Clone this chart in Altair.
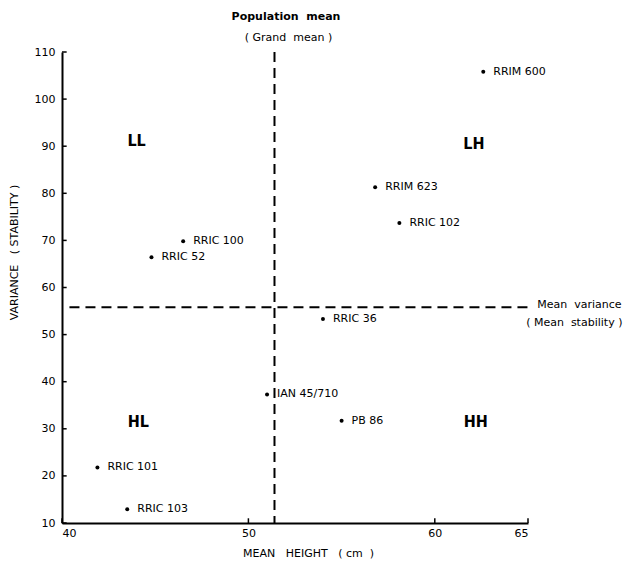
import altair as alt
import pandas as pd

clones = ["RRIM 600", "RRIM 623", "RRIC 102", "RRIC 100", "RRIC 52",
          "RRIC 36", "IAN 45/710", "PB 86", "RRIC 101", "RRIC 103"]
mean_height = [62.6, 56.8, 58.1, 46.5, 44.8, 54.0, 51.0, 55.0, 41.9, 43.5]
variance = [105.8, 81.3, 73.7, 69.8, 66.4, 53.3, 37.3, 31.7, 21.8, 12.9]

grand_mean = 51.4
mean_variance = 55.8

quad_labels = ["LL", "LH", "HL", "HH"]
quad_x = [44.0, 62.1, 44.1, 62.2]
quad_y = [91.0, 90.5, 31.5, 31.5]

x_ticks = [40, 50, 60, 65]
y_ticks = [10, 20, 30, 40, 50, 60, 70, 80, 90, 100, 110]

FONT = "DejaVu Sans"
NB = "\u00a0"

df = pd.DataFrame({"clone": clones, "h": mean_height, "v": variance})
qdf = pd.DataFrame({"lab": quad_labels, "h": quad_x, "v": quad_y})

xs = alt.Scale(domain=[40, 65], nice=False, zero=False)
ys = alt.Scale(domain=[10, 110], nice=False, zero=False)

x_title = f"MEAN{NB*3}HEIGHT{NB*3}({NB}cm{NB*2})"
y_title = f"VARIANCE{NB*3}({NB}STABILITY{NB})"

X = alt.X("h:Q", scale=xs, axis=alt.Axis(
    values=x_ticks, title=x_title, ticks=False,
    labelPadding=4, titleX=246, titleY=30, titleBaseline="middle",
    titleFontWeight="normal", titleFontSize=11))
Y = alt.Y("v:Q", scale=ys, axis=alt.Axis(
    values=y_ticks, title=y_title, ticks=False,
    labelPadding=7, titleX=-48, titleY=200, titleBaseline="middle",
    titleAngle=-90, titleFontWeight="normal", titleFontSize=11))

base = alt.Chart(df)

points = base.mark_circle(size=16, color="black", opacity=1).encode(x=X, y=Y)
labels = base.mark_text(align="left", baseline="middle", dx=10, fontSize=11,
                        font=FONT, color="black").encode(
    x=alt.X("h:Q", scale=xs), y=alt.Y("v:Q", scale=ys), text="clone:N")

vline = alt.Chart(pd.DataFrame({"h": [grand_mean], "v": [110], "v2": [10]})).mark_rule(
    color="black", strokeWidth=2, strokeDash=[10, 6]).encode(
    x=alt.X("h:Q", scale=xs), y=alt.Y("v:Q", scale=ys), y2="v2:Q")

hline = alt.Chart(pd.DataFrame({"h": [40.4], "h2": [65.0], "v": [mean_variance]})).mark_rule(
    color="black", strokeWidth=2, strokeDash=[10, 6]).encode(
    x=alt.X("h:Q", scale=xs), x2="h2:Q", y=alt.Y("v:Q", scale=ys))

quads = alt.Chart(qdf).mark_text(fontSize=16, fontWeight="bold", font="DejaVu Sans Condensed, DejaVu Sans",
                                 color="black").encode(
    x=alt.X("h:Q", scale=xs), y=alt.Y("v:Q", scale=ys), text="lab:N")

ann_text = [f"Population{NB*2}mean", f"({NB}Grand{NB*2}mean{NB})",
            f"Mean{NB*2}variance", f"({NB}Mean{NB*2}stability{NB})"]
ann_x = [49.1, 49.8, 65.5, 64.9]
ann_y = [117.4, 113.0, 56.3, 52.5]
ann_bold = [True, False, False, False]
adf = pd.DataFrame({"t": ann_text, "h": ann_x, "v": ann_y, "b": ann_bold})
ann_b = alt.Chart(adf[adf.b]).mark_text(align="left", baseline="middle", fontSize=11,
                                        fontWeight="bold", font=FONT, color="black").encode(
    x=alt.X("h:Q", scale=xs), y=alt.Y("v:Q", scale=ys), text="t:N")
ann_n = alt.Chart(adf[~adf.b]).mark_text(align="left", baseline="middle", fontSize=11,
                                         font=FONT, color="black").encode(
    x=alt.X("h:Q", scale=xs), y=alt.Y("v:Q", scale=ys), text="t:N")

# inward ticks
ytdf = pd.DataFrame({"h": [40.0] * len(y_ticks), "h2": [40.25] * len(y_ticks), "v": y_ticks})
ytk = alt.Chart(ytdf).mark_rule(color="black", strokeWidth=1.5).encode(
    x=alt.X("h:Q", scale=xs), x2="h2:Q", y=alt.Y("v:Q", scale=ys))
xtdf = pd.DataFrame({"h": x_ticks, "v": [10.0] * len(x_ticks), "v2": [11.0] * len(x_ticks)})
xtk = alt.Chart(xtdf).mark_rule(color="black", strokeWidth=1.5).encode(
    x=alt.X("h:Q", scale=xs), y=alt.Y("v:Q", scale=ys), y2="v2:Q")

chart = alt.layer(points, labels, vline, hline, quads, ann_b, ann_n, ytk, xtk).properties(
    width=466, height=471,
    padding={"left": 54, "top": 44, "right": 98, "bottom": 36},
    autosize=alt.AutoSizeParams(type="none"),
    background="white",
).configure_view(stroke=None).configure_axis(
    grid=False, domainColor="black", domainWidth=2, labelColor="black",
    titleColor="black", labelFont=FONT, titleFont=FONT, labelFontSize=11,
)

chart.save("out.html", embed_options={"renderer": "svg", "actions": False})
